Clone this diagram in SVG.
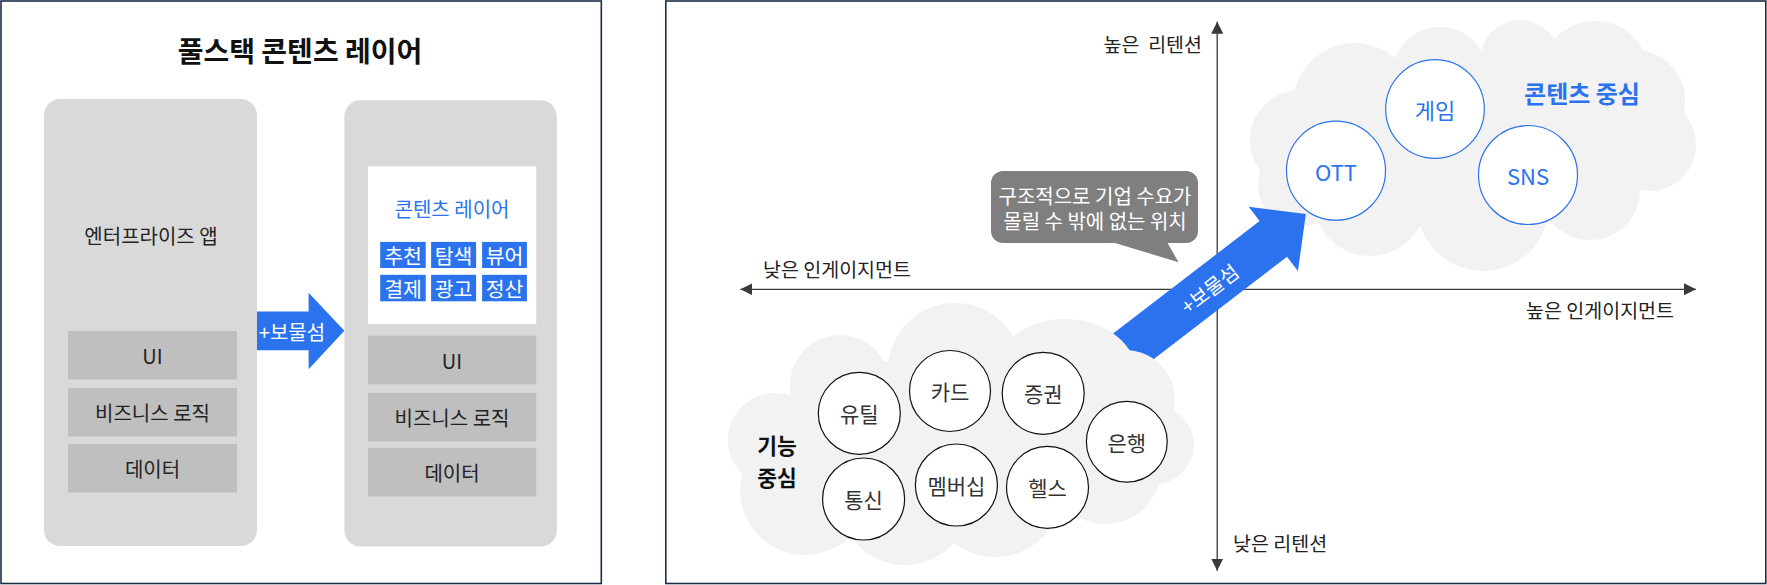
<svg xmlns="http://www.w3.org/2000/svg" width="1767" height="585" viewBox="0 0 1767 585">
<defs>
<style>
text{font-family:"Noto Sans CJK KR","Noto Sans",sans-serif}
.panel{fill:#fff;stroke:#1b2d48;stroke-width:1.6}
.col{fill:#d9d9d9}
.layer{fill:#bfbfbf}
.lbl{font-size:20px;fill:#222;text-anchor:middle;dominant-baseline:central}
.tile{fill:#2b73ee}
.tt{font-size:20.5px;fill:#fff;text-anchor:middle;dominant-baseline:central}
.blue{fill:#2b73ee}
.axis{stroke:#3a3a3a;stroke-width:1.3;fill:none;marker-start:url(#ah);marker-end:url(#ah)}
.ax{font-size:19.5px;fill:#222;dominant-baseline:central}
.cloud{fill:#f2f2f2}
.bc{fill:#fff;stroke:#2b73ee;stroke-width:1.2}
.kc{fill:#fff;stroke:#111;stroke-width:1.2}
.btxt{font-size:22px;fill:#2b73ee;text-anchor:middle;dominant-baseline:central}
.ktxt{font-size:21px;fill:#333;text-anchor:middle;dominant-baseline:central}
.wt{font-size:20px;fill:#fff;text-anchor:middle;dominant-baseline:central}
.fc{font-size:21.5px;font-weight:bold;fill:#111;text-anchor:middle;dominant-baseline:central}
</style>
<marker id="ah" viewBox="0 0 12 12" refX="12" refY="6" markerWidth="12" markerHeight="12" markerUnits="userSpaceOnUse" orient="auto-start-reverse"><path d="M0,0 L12,6 L0,12 z" fill="#3a3a3a"/></marker>
</defs>

<!-- LEFT PANEL -->
<g id="left-panel">
<rect class="panel" x="1" y="1" width="600.3" height="582.5"/>
<text x="300" y="50" font-size="28" font-weight="bold" fill="#111" text-anchor="middle" dominant-baseline="central">풀스택 콘텐츠 레이어</text>
</g>
<g id="enterprise-app">
<rect class="col" x="44" y="99" width="213" height="447" rx="16"/>
<text class="lbl" x="151" y="235.5">엔터프라이즈 앱</text>
<rect class="layer" x="68" y="331" width="169" height="48.5"/>
<text class="lbl" x="152.5" y="355.2">UI</text>
<rect class="layer" x="68" y="388" width="169" height="48.5"/>
<text class="lbl" x="152.5" y="412.2">비즈니스 로직</text>
<rect class="layer" x="68" y="444" width="169" height="48.5"/>
<text class="lbl" x="152.5" y="468.2">데이터</text>
</g>
<g id="connectors-left">
<polygon class="blue" points="257,311.4 308.6,311.4 308.6,292.7 344.4,330.8 308.6,369.3 308.6,350.3 257,350.3"/>
<text class="wt" x="292" y="331">+보물섬</text>
</g>
<g id="fullstack-app">
<rect class="col" x="344.4" y="100.2" width="212.4" height="446.3" rx="16"/>
<rect x="368" y="166.4" width="168.2" height="157.6" fill="#fff"/>
<text x="452" y="208.4" font-size="20" fill="#2b73ee" text-anchor="middle" dominant-baseline="central">콘텐츠 레이어</text>
<rect class="tile" x="380.2" y="241.9" width="45.5" height="26.1"/>
<rect class="tile" x="431.1" y="241.9" width="45" height="26.1"/>
<rect class="tile" x="482.1" y="241.9" width="44.8" height="26.1"/>
<rect class="tile" x="380.2" y="274.8" width="45.5" height="26.5"/>
<rect class="tile" x="431.1" y="274.8" width="45" height="26.5"/>
<rect class="tile" x="482.1" y="274.8" width="44.8" height="26.5"/>
<text class="tt" x="403" y="255">추천</text>
<text class="tt" x="453.6" y="255">탐색</text>
<text class="tt" x="504.5" y="255">뷰어</text>
<text class="tt" x="403" y="288">결제</text>
<text class="tt" x="453.6" y="288">광고</text>
<text class="tt" x="504.5" y="288">정산</text>
<rect class="layer" x="368" y="335.7" width="168.2" height="48.6"/>
<text class="lbl" x="452" y="360">UI</text>
<rect class="layer" x="368" y="392.9" width="168.2" height="48.6"/>
<text class="lbl" x="452" y="417.2">비즈니스 로직</text>
<rect class="layer" x="368" y="447.9" width="168.2" height="48.6"/>
<text class="lbl" x="452" y="472.2">데이터</text>
</g>

<!-- RIGHT PANEL -->
<g id="right-panel">
<rect class="panel" x="665.8" y="1" width="1100" height="582.5"/>
</g>
<g id="axes">
<line class="axis" x1="1217.2" y1="570.7" x2="1217.2" y2="21.7"/>
<line class="axis" x1="740.4" y1="289.3" x2="1696" y2="289.3"/>
<text class="ax" x="1202" y="43.8" text-anchor="end" xml:space="preserve">높은  리텐션</text>
<text class="ax" x="763" y="268.7">낮은 인게이지먼트</text>
<text class="ax" x="1674" y="309.5" text-anchor="end">높은 인게이지먼트</text>
<text class="ax" x="1233" y="542">낮은 리텐션</text>
</g>
<g id="content-cloud">
<g class="cloud">
<ellipse cx="1470" cy="145" rx="185" ry="85"/>
<circle cx="1300" cy="140" r="50"/>
<circle cx="1355" cy="105" r="62"/>
<circle cx="1440" cy="75" r="48"/>
<circle cx="1520" cy="60" r="40"/>
<circle cx="1595" cy="75" r="54"/>
<circle cx="1635" cy="100" r="50"/>
<circle cx="1650" cy="145" r="46"/>
<circle cx="1590" cy="190" r="50"/>
<circle cx="1483" cy="205" r="66"/>
<circle cx="1370" cy="200" r="56"/>
<circle cx="1300" cy="185" r="42"/>
</g>
<text x="1582" y="92.2" font-size="24" font-weight="bold" fill="#2b73ee" text-anchor="middle" dominant-baseline="central">콘텐츠 중심</text>
</g>
<g id="node-game"><circle class="bc" cx="1435" cy="109" r="49.3"/><text class="btxt" x="1435" y="109">게임</text></g>
<g id="node-ott"><circle class="bc" cx="1336" cy="170.7" r="49.5"/><text class="btxt" x="1336" y="170.7" font-size="25">OTT</text></g>
<g id="node-sns"><circle class="bc" cx="1528" cy="175" r="49.5"/><text class="btxt" x="1528" y="175" font-size="25">SNS</text></g>

<g id="callout">
<rect x="991" y="171" width="207" height="72" rx="12" fill="#7f7f7f"/>
<polygon points="1111.8,242 1178.6,262.3 1167,242" fill="#7f7f7f"/>
<text class="wt" x="1095" y="195" font-size="19.5">구조적으로 기업 수요가</text>
<text class="wt" x="1095" y="220.5" font-size="19.5">몰릴 수 밖에 없는 위치</text>
</g>

<g id="connectors">
<g transform="translate(1273.3,238.9) rotate(-37.5)">
<path class="blue" d="M-215,-22.5 L0,-22.5 L0,-40.5 L41,0 L0,40.5 L0,22.5 L-215,22.5 Z"/>
<text class="wt" x="-81" y="0">+보물섬</text>
</g>
</g>

<g id="function-cloud">
<g class="cloud">
<ellipse cx="960" cy="445" rx="200" ry="90"/>
<circle cx="775" cy="440" r="47"/>
<circle cx="840" cy="385" r="50"/>
<circle cx="955" cy="370" r="67"/>
<ellipse cx="1065" cy="375" rx="72" ry="56"/>
<circle cx="1125" cy="400" r="50"/>
<circle cx="1155" cy="445" r="39"/>
<circle cx="1105" cy="468" r="56"/>
<circle cx="995" cy="490" r="67"/>
<circle cx="905" cy="500" r="65"/>
<circle cx="805" cy="490" r="65"/>
</g>
<text class="fc" x="777" y="444">기능</text>
<text class="fc" x="777" y="476.5">중심</text>
</g>
<g id="node-util"><circle class="kc" cx="859.3" cy="413.3" r="41"/><text class="ktxt" x="859.3" y="413.3">유틸</text></g>
<g id="node-card"><circle class="kc" cx="950" cy="391" r="40.5"/><text class="ktxt" x="950" y="391">카드</text></g>
<g id="node-stock"><circle class="kc" cx="1043.2" cy="393.3" r="41"/><text class="ktxt" x="1043.2" y="393.3">증권</text></g>
<g id="node-bank"><circle class="kc" cx="1126.8" cy="441.7" r="40.4"/><text class="ktxt" x="1126.8" y="441.7">은행</text></g>
<g id="node-telecom"><circle class="kc" cx="863.6" cy="499" r="41"/><text class="ktxt" x="863.6" y="499">통신</text></g>
<g id="node-membership"><circle class="kc" cx="956.4" cy="485" r="41"/><text class="ktxt" x="956.4" y="485">멤버십</text></g>
<g id="node-health"><circle class="kc" cx="1047.5" cy="487.3" r="41"/><text class="ktxt" x="1047.5" y="487.3">헬스</text></g>
</svg>
